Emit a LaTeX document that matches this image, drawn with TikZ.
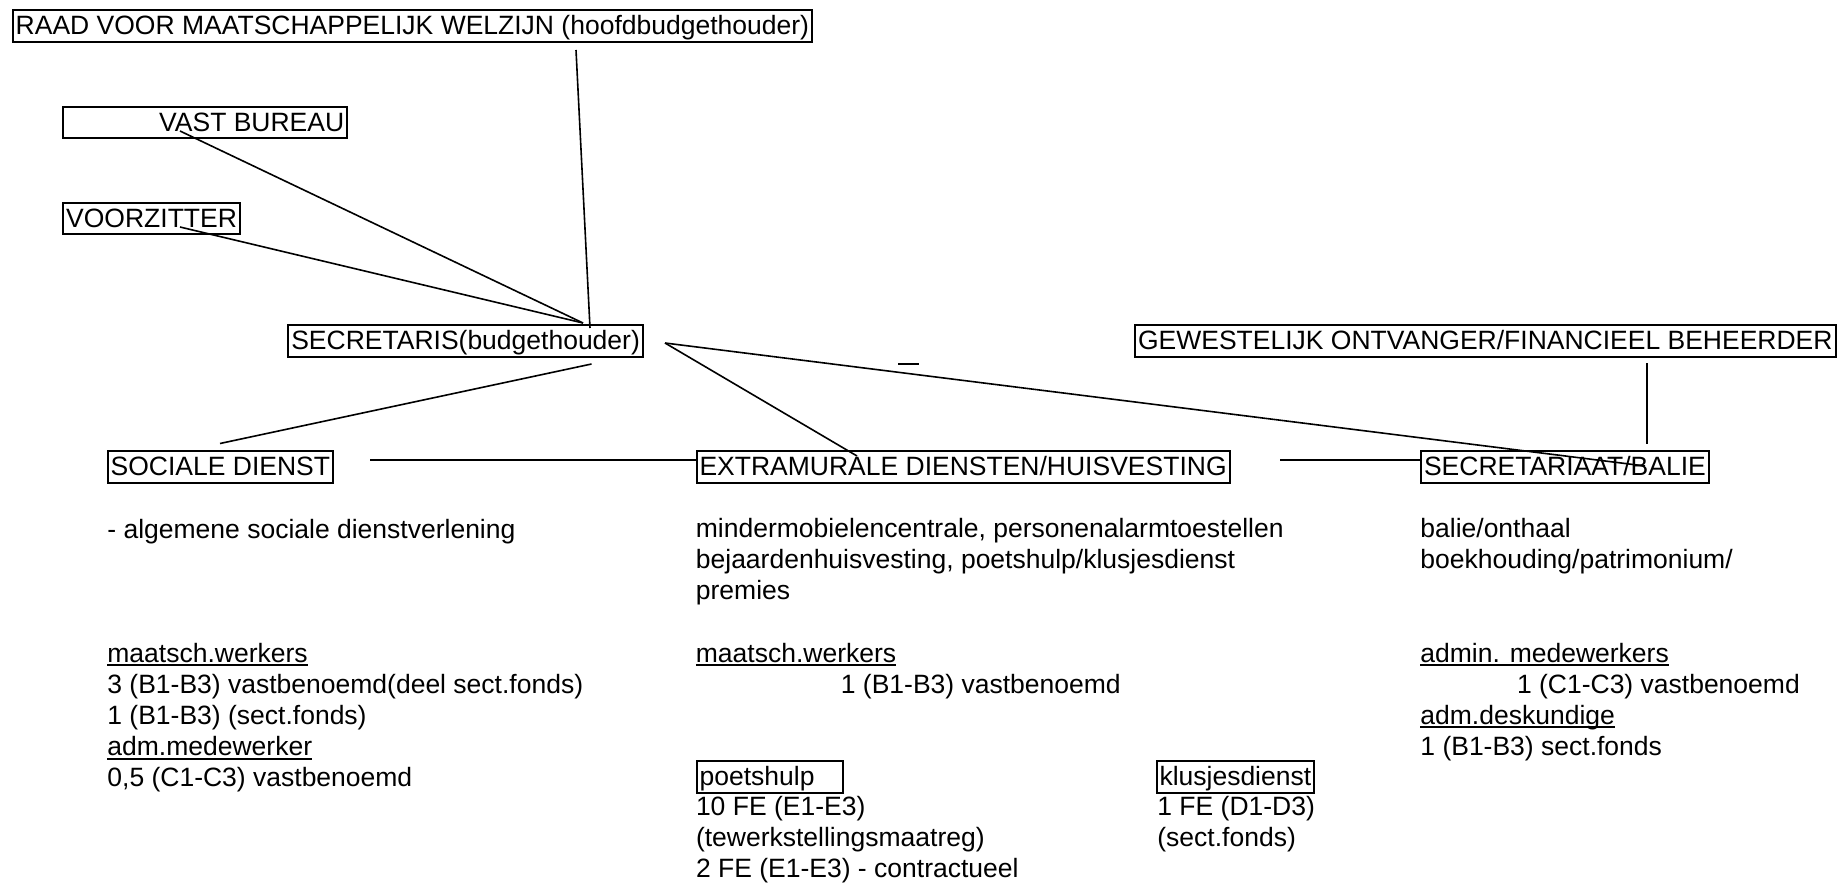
\documentclass[tikz,border=0pt]{standalone}
\usepackage{fontspec}
\setmainfont{Liberation Sans}
\usepackage{tikz}
\newcommand{\onder}[1]{\setbox0=\hbox{#1}\rlap{\rule[-1.85pt]{\wd0}{1pt}}\box0}

\begin{document}
\begin{tikzpicture}[x=0.5pt,y=-0.5pt,
		every node/.style={font=\fontsize{13.25pt}{15.55pt}\selectfont},
		kader/.style={draw,line width=1pt,anchor=north west,inner xsep=1.5pt,inner ysep=0pt,text height=12.2pt,text depth=3.6pt},
		tekst/.style={anchor=north west,inner sep=0pt,align=left,execute at begin node={\rule{0pt}{12pt}}},
		lijn/.style={line width=0.8pt}]
	\useasboundingbox (0,0) rectangle (1839,883);
	% kaders
	\node[kader] (raad) at (11.7,9.3) {RAAD VOOR MAATSCHAPPELIJK WELZIJN (hoofdbudgethouder)};
	\node[kader] (vast) at (62.2,105.6) {\hspace*{46.5pt}VAST BUREAU};
	\node[kader] (voorz) at (62.2,201.7) {VOORZITTER};
	\node[kader] (secr) at (287.3,324.3) {SECRETARIS(budgethouder)};
	\node[kader] (gew) at (1134,324.3) {GEWESTELIJK ONTVANGER/FINANCIEEL BEHEERDER};
	\node[kader] (soc) at (106.7,450.3) {SOCIALE DIENST};
	\node[kader] (extra) at (695.5,450.3) {EXTRAMURALE DIENSTEN/HUISVESTING};
	\node[kader] (balie) at (1420,450.3) {SECRETARIAAT/BALIE};
	\node[kader] (poets) at (695.6,760) {poetshulp\hspace*{12.7pt}};
	\node[kader] (klus) at (1155.5,760) {klusjesdienst};
	% taken en personeel
	\node[tekst] (socTaak) at (107,518.5) {- algemene sociale dienstverlening\\~\\~\\~\\\onder{maatsch.werkers}\\3 (B1-B3) vastbenoemd(deel sect.fonds)\\1 (B1-B3) (sect.fonds)\\\onder{adm.medewerker}\\0,5 (C1-C3) vastbenoemd};
	\node[tekst] (extraTaak) at (695.5,518) {mindermobielencentrale, personenalarmtoestellen\\bejaardenhuisvesting, poetshulp/klusjesdienst\\premies\\~\\\onder{maatsch.werkers}\\\hspace*{72.5pt}1 (B1-B3) vastbenoemd};
	\node[tekst] (balieTaak) at (1420,518) {balie/onthaal\\boekhouding/patrimonium/\\~\\~\\\onder{admin. medewerkers}\\\hspace*{48.3pt}1 (C1-C3) vastbenoemd\\\onder{adm.deskundige}\\1 (B1-B3) sect.fonds};
	\node[tekst] (poetsPers) at (695.6,796) {10 FE (E1-E3)\\(tewerkstellingsmaatreg)\\2 FE (E1-E3) - contractueel};
	\node[tekst] (klusPers) at (1157,796) {1 FE (D1-D3)\\(sect.fonds)};
	% lijnen
	\coordinate (raadUit) at (576,50);
	\coordinate (secrIn) at (590,328);
	\coordinate (vastUit) at (180,131);
	\coordinate (voorzUit) at (180,227);
	\coordinate (secrTop) at (583,323);
	\coordinate (secrOnder) at (591.5,364);
	\coordinate (socIn) at (220,443.5);
	\coordinate (secrRechts) at (665,343);
	\coordinate (extraIn) at (857,456);
	\coordinate (balieIn) at (1645,466);
	\coordinate (gewUit) at (1647,363);
	\coordinate (balieTop) at (1647,444);
	\coordinate (socUit) at (370,460);
	\coordinate (extraUit) at (1280,460);
	\draw[lijn] (raadUit) -- (secrIn);
	\draw[lijn] (vastUit) -- (secrTop);
	\draw[lijn] (voorzUit) -- (secrTop);
	\draw[lijn] (secrOnder) -- (socIn);
	\draw[lijn] (secrRechts) -- (extraIn);
	\draw[lijn] (secrRechts) -- (balieIn);
	\draw[lijn] (gewUit) -- (balieTop);
	\draw[lijn] (socUit) -- (socUit -| extra.west);
	\draw[lijn] (extraUit) -- (extraUit -| balie.west);
	\draw[lijn] (898,364) -- (919,364);
\end{tikzpicture}
\end{document}
